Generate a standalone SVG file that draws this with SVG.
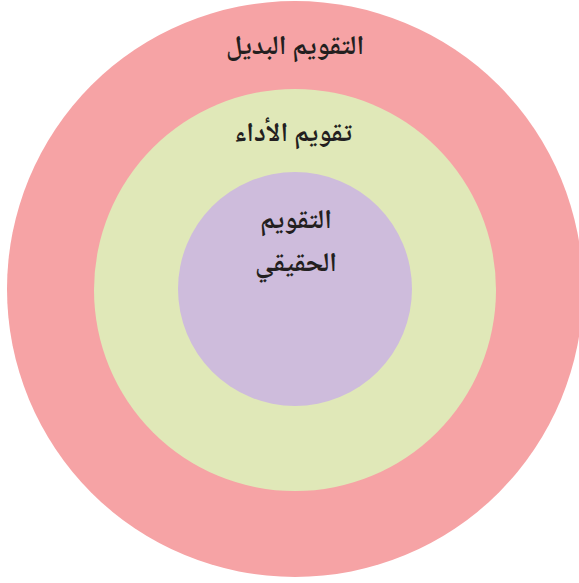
<svg xmlns="http://www.w3.org/2000/svg" width="579" height="583" viewBox="0 0 579 583">
<style>
.lbl{font-family:"Noto Naskh Arabic","Noto Sans Arabic","DejaVu Sans",sans-serif;font-weight:bold;font-size:27px;fill:#231f20;text-anchor:middle}
</style>
<rect width="579" height="583" fill="#ffffff"/>
<g id="outer">
<circle cx="295" cy="289" r="288" fill="#f6a3a5"/>
<text class="lbl" x="295" y="54" direction="rtl">التقويم البديل</text>
</g>
<g id="middle">
<circle cx="295" cy="290" r="201" fill="#e0e8b8"/>
<text class="lbl" x="293" y="141" direction="rtl">تقويم الأداء</text>
</g>
<g id="inner">
<circle cx="295" cy="289" r="117" fill="#cebcdc"/>
<text class="lbl" x="296" y="228" direction="rtl">التقويم</text>
<text class="lbl" x="296" y="271" direction="rtl">الحقيقي</text>
</g>
<g id="connectors"/>
</svg>
